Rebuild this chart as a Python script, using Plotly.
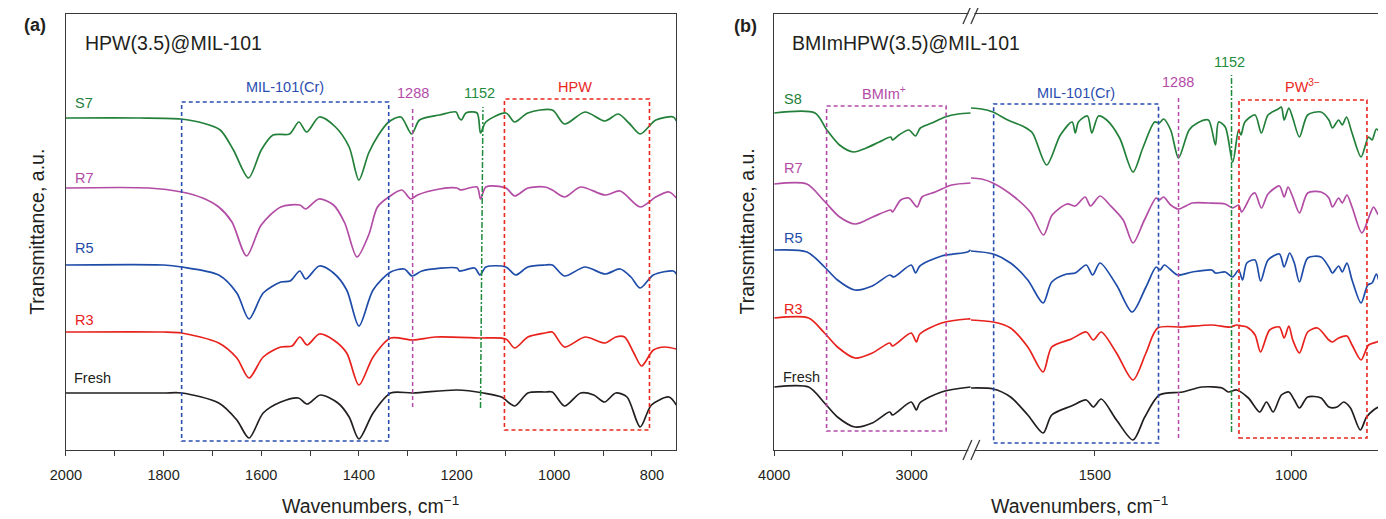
import plotly.graph_objects as go

# The page adds an 8 px body margin, so the figure is drawn 8 px smaller and
# every reference pixel position is shifted by that margin.
OFF = 8
W, H = 1386 - OFF, 519 - OFF


def PX(px):
    return (px - OFF) / W


def PY(py):
    return 1 - (py - OFF) / H


# ---------------- Panel (a): HPW(3.5)@MIL-101 ----------------
a_S7_wn = [2000, 1850, 1765, 1720, 1684, 1657, 1626, 1600, 1576, 1542, 1523, 1507, 1481, 1448, 1420, 1400,
           1380, 1360, 1339, 1314, 1292, 1276, 1235, 1201, 1195, 1190, 1181, 1158, 1151, 1140, 1099, 1081,
           1054, 1004, 979, 937, 896, 869, 847, 824, 792, 756, 750]
a_S7_t = [332, 332, 331, 327, 320, 300, 272, 300, 315, 316, 328, 318, 333, 323, 303, 270,
          297, 315, 328, 333, 316, 330, 335, 338, 332, 330, 337, 337, 317, 328, 337, 328,
          337, 340, 326, 338, 329, 336, 327, 316, 330, 333, 329]

a_R7_wn = [2000, 1830, 1763, 1720, 1687, 1660, 1630, 1600, 1560, 1521, 1509, 1482, 1452, 1429, 1404, 1380,
           1362, 1339, 1312, 1294, 1280, 1235, 1199, 1192, 1158, 1151, 1140, 1099, 1081, 1054, 1019, 1004,
           979, 946, 896, 865, 824, 792, 765, 750]
a_R7_t = [262, 262, 258, 252, 243, 228, 194, 225, 243, 245, 241, 251, 245, 227, 193, 215,
          243, 253, 260, 251, 255, 261, 262, 260, 263, 251, 263, 262, 254, 262, 263, 260,
          253, 263, 255, 259, 243, 253, 258, 252]

a_R5_wn = [2000, 1800, 1763, 1687, 1650, 1625, 1596, 1560, 1541, 1521, 1509, 1481, 1452, 1425, 1400, 1371,
           1335, 1307, 1291, 1271, 1199, 1194, 1163, 1152, 1140, 1099, 1079, 1054, 1019, 1004, 979, 937,
           896, 865, 843, 824, 797, 756, 750]
a_R5_t = [185, 185, 183, 175, 157, 131, 157, 168, 169, 179, 171, 184, 177, 160, 124, 160,
          178, 181, 174, 179, 182, 179, 182, 175, 183, 183, 175, 183, 185, 185, 174, 183,
          176, 181, 173, 162, 175, 179, 176]

a_R3_wn = [2000, 1800, 1763, 1687, 1650, 1625, 1596, 1560, 1537, 1521, 1506, 1481, 1452, 1425, 1400, 1371,
           1335, 1289, 1244, 1154, 1099, 1081, 1054, 1019, 1004, 979, 937, 896, 874, 856, 837, 821,
           797, 774, 750]
a_R3_t = [118, 118, 117, 107, 92, 72, 93, 103, 104, 113, 105, 116, 110, 97, 65, 93,
          112, 110, 113, 112, 111, 102, 113, 117, 118, 103, 113, 107, 113, 113, 97, 84,
          100, 103, 101]

a_Fresh_wn = [2000, 1800, 1763, 1687, 1650, 1625, 1596, 1560, 1524, 1506, 1479, 1443, 1420, 1400, 1371, 1335,
              1289, 1199, 1145, 1108, 1081, 1054, 1019, 1004, 979, 946, 919, 897, 874, 851, 824, 801,
              765, 750]
a_Fresh_t = [57, 57, 57, 47, 30, 12, 37, 48, 52, 46, 55, 47, 33, 11, 37, 57,
             57, 60, 57, 53, 44, 57, 58, 58, 44, 57, 55, 48, 57, 53, 23, 45,
             53, 45]

# ---------------- Panel (b): BMImHPW(3.5)@MIL-101 ----------------
b_S8_wn = [4000, 3703, 3617, 3525, 3423, 3331, 3236, 3152, 3140, 3093, 3021, 2973, 2937, 2853, 2757, 2662, 2572,
           1816, 1789, 1760, 1722, 1680, 1659, 1623, 1588, 1558, 1550, 1542, 1519, 1508, 1491, 1470, 1437,
           1403, 1378, 1348, 1336, 1325, 1307, 1287, 1260, 1239, 1211, 1193, 1185, 1168, 1149, 1134, 1128,
           1118, 1092, 1076, 1059, 1033, 1025, 1018, 1006, 996, 979, 958, 924, 904, 895, 879, 870, 859,
           845, 822, 803, 794, 783, 769, 761]
b_S8_t = [337, 337, 320, 305, 298, 302, 308, 313, 310, 315, 320, 314, 322, 327, 333, 336, 337,
          342, 341, 338, 330, 323, 317, 285, 315, 328, 317, 328, 334, 317, 334, 330, 312,
          278, 302, 328, 327, 331, 320, 292, 320, 327, 330, 305, 328, 323, 288, 320, 315,
          328, 335, 317, 335, 341, 343, 330, 342, 332, 313, 335, 338, 330, 322, 330, 325, 333,
          317, 293, 313, 310, 321, 313, 303]

b_R7_wn = [4000, 3763, 3643, 3524, 3409, 3284, 3152, 3140, 3080, 3021, 2961, 2925, 2829, 2709, 2572,
           1816, 1789, 1760, 1705, 1663, 1631, 1609, 1571, 1550, 1525, 1511, 1487, 1462, 1428, 1403, 1374,
           1344, 1336, 1325, 1307, 1287, 1252, 1211, 1168, 1149, 1134, 1126, 1101, 1092, 1076, 1059, 1030,
           1018, 1008, 996, 979, 958, 924, 904, 895, 879, 870, 858, 845, 820, 800, 790, 777, 769, 761]
b_R7_t = [266, 266, 250, 233, 226, 233, 240, 238, 250, 252, 243, 253, 258, 265, 267,
          272, 271, 267, 253, 237, 215, 235, 246, 244, 253, 244, 254, 245, 230, 207, 230,
          252, 250, 253, 245, 241, 247, 247, 246, 242, 245, 238, 255, 257, 242, 256, 264,
          253, 263, 253, 237, 257, 258, 252, 243, 252, 247, 255, 243, 217, 235, 243, 235, 240, 227]

b_R5_wn = [4000, 3761, 3634, 3540, 3413, 3287, 3160, 3131, 3004, 2972, 2941, 2783, 2594, 2572,
           1816, 1759, 1715, 1671, 1632, 1610, 1572, 1550, 1522, 1506, 1487, 1445, 1405, 1370, 1344, 1334,
           1323, 1290, 1252, 1202, 1193, 1168, 1149, 1134, 1124, 1113, 1092, 1078, 1059, 1030, 1018, 1004,
           992, 979, 958, 924, 904, 895, 879, 870, 858, 845, 822, 805, 794, 783, 773, 761]
b_R5_t = [200, 198, 183, 170, 160, 164, 175, 173, 185, 177, 184, 194, 198, 200,
          199, 196, 187, 170, 147, 168, 176, 177, 185, 175, 187, 165, 138, 163, 183, 180,
          185, 175, 178, 180, 177, 178, 173, 180, 170, 187, 190, 169, 190, 196, 183, 197,
          187, 168, 192, 193, 183, 177, 184, 178, 187, 170, 147, 165, 167, 176, 165, 158]

b_R3_wn = [4000, 3750, 3634, 3540, 3413, 3287, 3160, 3140, 3004, 2966, 2941, 2783, 2594, 2572,
           1816, 1759, 1715, 1671, 1632, 1610, 1560, 1522, 1504, 1484, 1445, 1403, 1370, 1340, 1277, 1202,
           1155, 1139, 1126, 1113, 1092, 1078, 1055, 1030, 1018, 1006, 996, 979, 958, 933, 904, 895, 879,
           858, 845, 822, 803, 782, 761]
b_R3_t = [132, 132, 117, 103, 92, 97, 107, 104, 117, 108, 116, 127, 131, 131,
          130, 128, 122, 103, 78, 103, 111, 118, 110, 118, 97, 70, 97, 122, 123, 125,
          123, 125, 124, 123, 115, 98, 120, 123, 112, 124, 110, 97, 118, 122, 110, 108, 112,
          114, 105, 90, 105, 108, 112]

b_Fresh_wn = [4000, 3750, 3634, 3540, 3413, 3287, 3160, 3140, 3004, 2966, 2941, 2783, 2572,
              1816, 1759, 1715, 1671, 1632, 1610, 1560, 1522, 1504, 1484, 1445, 1403, 1373, 1336, 1277, 1227,
              1176, 1160, 1139, 1109, 1080, 1063, 1046, 1025, 1006, 992, 979, 958, 924, 904, 883, 866, 849,
              824, 808, 790, 773, 761]
b_Fresh_t = [63, 63, 47, 33, 23, 27, 38, 35, 48, 40, 47, 58, 63,
             62, 61, 53, 35, 17, 35, 44, 50, 43, 51, 30, 10, 33, 55, 58, 63,
             62, 58, 60, 52, 38, 48, 38, 55, 58, 50, 42, 53, 52, 43, 43, 48, 42,
             20, 33, 40, 44, 46]

GREEN = "#23803a"
MAGENTA = "#b24ca4"
BLUE = "#1f4ca8"
RED = "#e8211c"
BLACK = "#231f20"

FONT = "Liberation Sans, Arial, sans-serif"
LW = 1.7
SMOOTH = 0.8

fig = go.Figure()

a_series = [("S7", a_S7_wn, a_S7_t, GREEN), ("R7", a_R7_wn, a_R7_t, MAGENTA),
            ("R5", a_R5_wn, a_R5_t, BLUE), ("R3", a_R3_wn, a_R3_t, RED),
            ("Fresh", a_Fresh_wn, a_Fresh_t, BLACK)]
for name, wn, t, c in a_series:
    fig.add_trace(go.Scatter(x=wn, y=t, mode="lines", name=name, xaxis="x", yaxis="y",
                             line=dict(color=c, width=LW, shape="spline", smoothing=SMOOTH),
                             showlegend=False, hoverinfo="skip"))

b_series = [("S8", b_S8_wn, b_S8_t, GREEN), ("R7", b_R7_wn, b_R7_t, MAGENTA),
            ("R5", b_R5_wn, b_R5_t, BLUE), ("R3", b_R3_wn, b_R3_t, RED),
            ("Fresh", b_Fresh_wn, b_Fresh_t, BLACK)]
BREAK_WN = 2200
for name, wn, t, c in b_series:
    hi = [(w, v) for w, v in zip(wn, t) if w > BREAK_WN]
    lo = [(w, v) for w, v in zip(wn, t) if w <= BREAK_WN]
    fig.add_trace(go.Scatter(x=[p[0] for p in hi], y=[p[1] for p in hi], mode="lines", name=name,
                             xaxis="x2", yaxis="y2", cliponaxis=False,
                             line=dict(color=c, width=LW, shape="spline", smoothing=SMOOTH),
                             showlegend=False, hoverinfo="skip"))
    fig.add_trace(go.Scatter(x=[p[0] for p in lo], y=[p[1] for p in lo], mode="lines", name=name,
                             xaxis="x3", yaxis="y2",
                             line=dict(color=c, width=LW, shape="spline", smoothing=SMOOTH),
                             showlegend=False, hoverinfo="skip"))

FRAME = "#3a3a3a"
tickfont = dict(family=FONT, size=14.5, color="#231f20")
YDOM = [PY(450), PY(14)]

common_x = dict(showline=True, linecolor=FRAME, linewidth=1.3, ticks="outside", ticklen=5,
                tickcolor=FRAME, tickwidth=1.2, showgrid=False, zeroline=False,
                tickfont=tickfont, ticklabelstandoff=6, autorange=False)
minor_style = dict(ticklen=5, tickcolor=FRAME, ticks="outside", tickwidth=1.2, showgrid=False)

layout = dict(
    width=W, height=H, margin=dict(l=0, r=0, t=0, b=0),
    paper_bgcolor="white", plot_bgcolor="white",
    xaxis=dict(domain=[PX(50.4), PX(668)], range=[2000, 750], anchor="y", mirror=True,
               tickvals=[2000, 1800, 1600, 1400, 1200, 1000, 800],
               minor=dict(tickvals=[1900, 1700, 1500, 1300, 1100, 900], **minor_style),
               **common_x),
    yaxis=dict(domain=YDOM, range=[0, 436], anchor="x", showline=True, mirror=True, linecolor=FRAME,
               linewidth=1.3, ticks="", showticklabels=False, showgrid=False, zeroline=False),
    xaxis2=dict(domain=[PX(767), PX(966)], range=[4000, 2570], anchor="y2", mirror=True,
                tickvals=[4000, 3000], minor=dict(tickvals=[3500], **minor_style), **common_x),
    xaxis3=dict(domain=[PX(966), PX(1385)], range=[1816, 761], anchor="y2", mirror=True,
                tickvals=[1500, 1000], **common_x),
    yaxis2=dict(domain=YDOM, range=[0, 436], anchor="x2", showline=True, mirror=False, linecolor=FRAME,
                linewidth=1.3, ticks="", showticklabels=False, showgrid=False, zeroline=False),
)
fig.update_layout(**layout)

shapes = []
DASH = "4px,3px"


def box(xref, x0, x1, y0, y1, color):
    shapes.append(dict(type="rect", xref=xref, yref="y" if xref == "x" else "y2", x0=x0, x1=x1, y0=y0, y1=y1,
                       line=dict(color=color, width=1.6, dash=DASH), fillcolor="rgba(0,0,0,0)", layer="above"))


def vline(xref, x0, x1, y0, y1, color, dash):
    shapes.append(dict(type="line", xref=xref, yref="y" if xref == "x" else "y2", x0=x0, x1=x1, y0=y0, y1=y1,
                       line=dict(color=color, width=1.5, dash=dash), layer="above"))


BOXBLUE = "#2a4db0"
BOXMAG = "#b44aa8"
BOXRED = "#e8281e"
BOXGREEN = "#1e8c3c"

# panel a annotations
box("x", 1763, 1339, 9, 348, BOXBLUE)
box("x", 1102, 805, 20, 351, BOXRED)
vline("x", 1290, 1290, 43, 344, BOXMAG, DASH)
vline("x", 1151, 1146, 42, 343, BOXGREEN, "6px,2px,2px,2px")
# panel b annotations
box("x2", 3619, 2750, 19, 344, BOXMAG)
box("x3", 1758, 1338, 7, 346, BOXBLUE)
box("x3", 1133, 807, 12, 350, BOXRED)
vline("x3", 1287, 1287, 12, 353, BOXMAG, DASH)
vline("x3", 1152, 1152, 18, 375, BOXGREEN, "6px,2px,2px,2px")

# right frame of panel b
shapes.append(dict(type="line", xref="paper", yref="paper", x0=PX(1385), x1=PX(1385), y0=PY(450), y1=PY(14),
                   line=dict(color=FRAME, width=1.3)))
# axis-break marks
for yc in (450, 14):
    shapes.append(dict(type="line", xref="paper", yref="paper", x0=PX(963.5), x1=PX(969.5), y0=PY(yc), y1=PY(yc),
                       line=dict(color="white", width=3)))
    for dx in (0, 8):
        shapes.append(dict(type="line", xref="paper", yref="paper", x0=PX(958 + dx), x1=PX(967 + dx),
                           y0=PY(yc + 10), y1=PY(yc - 10), line=dict(color=FRAME, width=1.3)))

fig.update_layout(shapes=shapes)

ann = []


def text(s, px, py, size=14.5, color="#231f20", xanchor="center", bold=False, angle=0):
    ann.append(dict(text=f"<b>{s}</b>" if bold else s, x=PX(px), y=PY(py), xref="paper", yref="paper",
                    showarrow=False, xanchor=xanchor, yanchor="middle", textangle=angle,
                    font=dict(family=FONT, size=size, color=color)))


# panel a texts
text("(a)", 19, 25, size=18, bold=True)
text("HPW(3.5)@MIL-101", 68, 43, size=19.5, xanchor="left")
text("S7", 58, 103, color=GREEN, xanchor="left")
text("R7", 58, 178, color=MAGENTA, xanchor="left")
text("R5", 58, 248, color=BLUE, xanchor="left")
text("R3", 58, 320, color=RED, xanchor="left")
text("Fresh", 57, 378, color=BLACK, xanchor="left")
text("MIL-101(Cr)", 272, 87, color=BOXBLUE)
text("1288", 402, 93, color=BOXMAG)
text("1152", 469, 93, color=BOXGREEN)
text("HPW", 565, 87, color=BOXRED)
text("Wavenumbers, cm<sup>−1</sup>", 359, 505, size=19.5)
text("Transmittance, a.u.", 21, 232, size=19.5, angle=-90)

# panel b texts
text("(b)", 738, 26, size=18, bold=True)
text("BMImHPW(3.5)@MIL-101", 783, 43, size=19.5, xanchor="left")
text("S8", 775, 99, color=GREEN, xanchor="left")
text("R7", 775, 168, color=MAGENTA, xanchor="left")
text("R5", 775, 238, color=BLUE, xanchor="left")
text("R3", 775, 309, color=RED, xanchor="left")
text("Fresh", 774, 377, color=BLACK, xanchor="left")
text("BMIm<sup>+</sup>", 878, 93, color=BOXMAG)
text("MIL-101(Cr)", 1072, 93, color=BOXBLUE)
text("1288", 1176, 82, color=BOXMAG)
text("1152", 1228, 62, color=BOXGREEN)
text("PW<sup>3−</sup>", 1302, 86, color=BOXRED)
text("Wavenumbers, cm<sup>−1</sup>", 1076, 505, size=19.5)
text("Transmittance, a.u.", 739, 232, size=19.5, angle=-90)

fig.update_layout(annotations=ann)

fig.write_html("out.html")
